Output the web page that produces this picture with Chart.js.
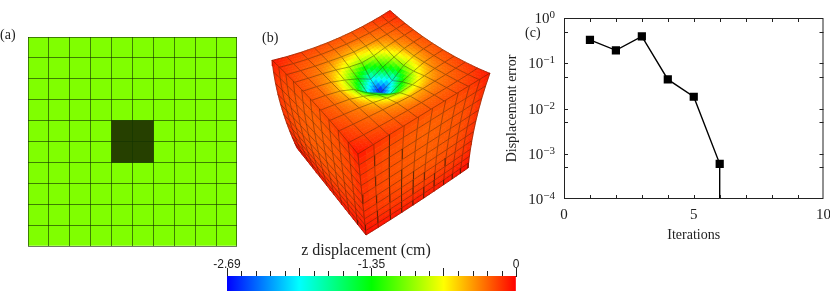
<!DOCTYPE html>
<html><head><meta charset="utf-8">
<style>
html,body{margin:0;padding:0;background:#fff;width:830px;height:291px;overflow:hidden}
.p{position:absolute}
canvas{display:block;filter:blur(.35px)}
</style>
<script src="https://cdn.jsdelivr.net/npm/chart.js@4"></script>
</head><body>
<div class="p" style="left:0;top:20px;width:250px;height:235px"><canvas id="a"></canvas></div>
<div class="p" style="left:255px;top:0;width:240px;height:240px"><canvas id="b"></canvas></div>
<div class="p" style="left:500px;top:0;width:330px;height:250px"><canvas id="c"></canvas></div>
<div class="p" style="left:200px;top:240px;width:330px;height:51px"><canvas id="d"></canvas></div>
<script>
// ---------- panel (c) data
const iterations = [1, 2, 3, 4, 5, 6, 6];
const displacementError = [0.327, 0.193, 0.393, 0.044, 0.0182, 0.0006, 0.000001];
const yDecades = [1, 0.1, 0.01, 0.001, 0.0001];
const yDecadeExponents = ['0', '\u22121', '\u22122', '\u22123', '\u22124'];
const yMinorTicks = [0.5, 0.05, 0.005, 0.0005];
const xTicksC = [0, 1, 2, 3, 4, 5, 6, 7, 8, 9, 10];
const xLabelledC = [0, 5, 10];
// ---------- panel (a) data
const plateColumns = ['1','2','3','4','5','6','7','8','9','10'];
const plateExtent = [[0,10],[0,10],[0,10],[0,10],[0,10],[0,10],[0,10],[0,10],[0,10],[0,10]];
const loadExtent = [null,null,null,null,[4,6],[4,6],null,null,null,null];
// ---------- colour bar data
const colourMin = -2.69, colourMax = 0;
const colourMajor = [-2.69, -2.0175, -1.345, -0.6725, 0];
const colourLabels = {'-2.69':'-2.69', '-1.345':'-1.35', '0':'0'};
const colourMinorPerInterval = 5;
const colourTitle = 'z displacement (cm)';
// ---------- panel (b) data: z displacement magnitude (cm) at mesh nodes
const topDisp = [
 [.05,.11,.15,.18,.20,.21,.20,.18,.15,.11,.05],
 [.11,.18,.22,.25,.27,.28,.27,.25,.22,.18,.11],
 [.15,.22,.28,.34,.42,.48,.42,.34,.28,.22,.15],
 [.18,.25,.34,.52,.80,.95,.80,.52,.34,.25,.18],
 [.20,.27,.42,.80,1.30,2.00,1.30,.80,.42,.27,.20],
 [.21,.28,.48,.95,2.00,2.69,2.00,.95,.48,.28,.21],
 [.20,.27,.42,.80,1.30,2.00,1.30,.80,.42,.27,.20],
 [.18,.25,.34,.52,.80,.95,.80,.52,.34,.25,.18],
 [.15,.22,.28,.34,.42,.48,.42,.34,.28,.22,.15],
 [.11,.18,.22,.25,.27,.28,.27,.25,.22,.18,.11],
 [.05,.11,.15,.18,.20,.21,.20,.18,.15,.11,.05]];
const sideDisp = [
 [.05,.12,.16,.19,.21,.22,.21,.19,.16,.12,.05],
 [.10,.16,.20,.22,.24,.25,.24,.22,.20,.16,.10],
 [.12,.18,.21,.23,.25,.26,.25,.23,.21,.18,.12],
 [.12,.18,.21,.23,.24,.25,.24,.23,.21,.18,.12],
 [.12,.18,.21,.23,.24,.25,.24,.23,.21,.18,.12],
 [.12,.17,.20,.22,.23,.24,.23,.22,.20,.17,.12],
 [.11,.16,.18,.20,.21,.21,.21,.20,.18,.16,.11],
 [.10,.14,.16,.17,.18,.18,.18,.17,.16,.14,.10],
 [.08,.11,.13,.14,.14,.15,.14,.14,.13,.11,.08],
 [.05,.08,.09,.10,.10,.10,.10,.10,.09,.08,.05],
 [.02,.04,.05,.05,.06,.06,.06,.05,.05,.04,.02]];
// view-space cube corners and edge sags for the projected block
const cornerBack=[390,10], cornerRight=[490,73], cornerLeft=[272,60], cornerFront=[358,154];
const cornerLeftLow=[297,148], cornerFrontLow=[366,235], cornerRightLow=[468,168];
const meshStops=[0,.075,.155,.24,.335,.435,.54,.65,.76,.88,1];
const rowStops=[0,.136,.267,.391,.506,.617,.712,.802,.877,.947,1];
const dimpleDepth=9;

const serif='"Liberation Serif"', sans='"Liberation Sans"';
const INK='#222';

function jet(t){
  t=Math.max(0,Math.min(1,t));
  const st=[[0,0,255],[0,255,255],[0,255,0],[255,255,0],[255,0,0]];
  const f=t*4,i=Math.min(3,Math.floor(f)),r=f-i;
  const c=st[i].map((v,k)=>Math.round(v+(st[i+1][k]-v)*r));
  return `rgb(${c[0]},${c[1]},${c[2]})`;
}
const dispColour=d=>jet((colourMax-d-colourMin)/(colourMax-colourMin));
const textPlugin=(items)=>({id:'txt',afterDraw(ch){
  const g=ch.ctx;g.save();g.fillStyle=INK;g.textBaseline='alphabetic';g.textAlign='left';
  g.font='14px '+serif;items.forEach(t=>g.fillText(t[0],t[1],t[2]));g.restore();}});
const base={responsive:false,animation:false,events:[],plugins:{legend:{display:false},tooltip:{enabled:false}}};
function size(id,w,h){const c=document.getElementById(id);c.width=w;c.height=h;c.style.width=w+'px';c.style.height=h+'px';return c;}

// ---------- (a)
const gridCol='rgba(20,50,0,.62)';
new Chart(size('a',250,235),{type:'bar',
 data:{labels:plateColumns,datasets:[
  {data:loadExtent,backgroundColor:'#264000',barPercentage:1,categoryPercentage:1,grouped:false,order:0},
  {data:plateExtent,backgroundColor:'#80ff00',barPercentage:1,categoryPercentage:1,grouped:false,order:1}]},
 options:{...base,layout:{padding:{left:28,right:13,top:17,bottom:9}},
  scales:{
   x:{grid:{color:gridCol,drawTicks:false,z:1},border:{display:false},ticks:{display:false},afterFit(s){s.height=0}},
   y:{min:0,max:10,grid:{color:gridCol,drawTicks:false,z:1},border:{display:false},ticks:{display:false,stepSize:1},afterFit(s){s.width=0}}}},
 plugins:[textPlugin([['(a)',0,19]])]});

// ---------- (b)
function mix(a,b,t){return [a[0]+(b[0]-a[0])*t,a[1]+(b[1]-a[1])*t];}
function edge(a,b,sag,t){const p=mix(a,b,t),k=4*t*(1-t);return [p[0]+sag[0]*k,p[1]+sag[1]*k];}
function coons(c00,c10,c01,c11,sv0,sv1,su0,su1,u,v){
  const a=edge(c00,c10,sv0,u),b=edge(c01,c11,sv1,u),c=edge(c00,c01,su0,v),d=edge(c10,c11,su1,v);
  const l=mix(mix(c00,c10,u),mix(c01,c11,u),v);
  return [0,1].map(i=>(1-v)*a[i]+v*b[i]+(1-u)*c[i]+u*d[i]-l[i]);
}
const rightStops=meshStops.map(s=>1-s).reverse();
const meshFaces=[
 {us:meshStops,vs:meshStops,f:(u,v)=>coons(cornerBack,cornerRight,cornerLeft,cornerFront,[-1,4],[1,-2],[1,4],[0,0],u,v),d:topDisp,depth:dimpleDepth,sub:4},
 {us:meshStops,vs:rowStops,f:(u,v)=>coons(cornerLeft,cornerFront,cornerLeftLow,cornerFrontLow,[1,-2],[0,0],[-4,0],[0,0],u,v),d:sideDisp,depth:0,sub:2},
 {us:rightStops,vs:rowStops,f:(u,v)=>coons(cornerFront,cornerRight,cornerFrontLow,cornerRightLow,[0,0],[0,1],[0,0],[-3,0],u,v),d:sideDisp,depth:0,sub:2}
];
const meshDatasets=[];
const meshLine='rgba(55,30,0,.45)';
function addFill(pts,col){meshDatasets.push({data:[...pts,pts[0]],showLine:true,fill:'shape',backgroundColor:col,borderColor:col,borderWidth:.7,pointRadius:0,tension:0,clip:false});}
function addLine(pts){meshDatasets.push({data:pts,showLine:true,fill:false,borderColor:meshLine,borderWidth:.9,pointRadius:0,tension:0,clip:false});}
meshFaces.forEach(F=>{
 const nodes=F.vs.map((v,j)=>F.us.map((u,i)=>{const p=F.f(u,v);const d=F.d[j][i];return {x:p[0],y:p[1]+F.depth*d};}));
 for(let j=0;j<10;j++)for(let i=0;i<10;i++){
  const n00=nodes[j][i],n10=nodes[j][i+1],n01=nodes[j+1][i],n11=nodes[j+1][i+1];
  const d00=F.d[j][i],d10=F.d[j][i+1],d01=F.d[j+1][i],d11=F.d[j+1][i+1];
  const P=(s,t)=>({x:(1-t)*((1-s)*n00.x+s*n10.x)+t*((1-s)*n01.x+s*n11.x),y:(1-t)*((1-s)*n00.y+s*n10.y)+t*((1-s)*n01.y+s*n11.y)});
  const D=(s,t)=>(1-t)*((1-s)*d00+s*d10)+t*((1-s)*d01+s*d11);
  const S=F.sub;
  for(let b=0;b<S;b++)for(let a=0;a<S;a++){
   const s0=a/S,s1=(a+1)/S,t0=b/S,t1=(b+1)/S;
   addFill([P(s0,t0),P(s1,t0),P(s1,t1),P(s0,t1)],dispColour(D((s0+s1)/2,(t0+t1)/2)));
  }
  addLine([n10,n00,n01]);
  if(i===9)addLine([n10,n11]);
  if(j===9)addLine([n01,n11]);
 }
});
new Chart(size('b',240,240),{type:'scatter',data:{datasets:meshDatasets.reverse()},
 options:{...base,layout:{padding:0},scales:{
  x:{type:'linear',display:false,min:255,max:495},
  y:{type:'linear',display:false,min:0,max:240,reverse:true}}},
 plugins:[textPlugin([['(b)',7,42]])]});

// ---------- (c)
const tickLen=4;
const frameC={id:'frameC',afterDatasetsDraw(ch){
 const g=ch.ctx,a=ch.chartArea,X=ch.scales.x,Y=ch.scales.y;
 g.save();g.strokeStyle=INK;g.lineWidth=1;
 g.strokeRect(a.left+.5,a.top+.5,a.right-a.left-1,a.bottom-a.top-1);
 g.beginPath();
 xTicksC.slice(1,-1).forEach(v=>{const x=Math.round(X.getPixelForValue(v))+.5;
  g.moveTo(x,a.top);g.lineTo(x,a.top+tickLen);g.moveTo(x,a.bottom);g.lineTo(x,a.bottom-tickLen);});
 [...yDecades.slice(1,-1),...yMinorTicks].forEach(v=>{const y=Math.round(Y.getPixelForValue(v))+.5;
  g.moveTo(a.left,y);g.lineTo(a.left+tickLen,y);g.moveTo(a.right,y);g.lineTo(a.right-tickLen,y);});
 g.stroke();
 g.fillStyle=INK;g.textBaseline='alphabetic';
 yDecades.forEach((v,i)=>{const y=Y.getPixelForValue(v),e=yDecadeExponents[i];
  g.font='11px '+serif;g.textAlign='right';g.fillText(e,a.left-9,y);
  const w=g.measureText(e).width;
  g.font='15px '+serif;g.fillText('10',a.left-9-w,y+5);});
 g.restore();}};
new Chart(size('c',330,250),{type:'scatter',
 data:{datasets:[{data:iterations.map((x,i)=>({x,y:displacementError[i]})),showLine:true,
  borderColor:'#000',borderWidth:1.4,tension:0,pointStyle:'rect',backgroundColor:'#000',
  pointRadius:iterations.map((x,i)=>i<6?5.8:0),pointBorderWidth:0}]},
 options:{...base,layout:{padding:{left:0,right:0,top:18,bottom:0}},scales:{
  x:{type:'linear',min:0,max:10,grid:{display:false},border:{display:false},
   afterBuildTicks(s){s.ticks=xLabelledC.map(value=>({value}));},
   ticks:{color:INK,font:{family:serif,size:15},padding:-1,maxRotation:0,autoSkip:false},
   title:{display:true,text:'Iterations',color:INK,font:{family:serif,size:14},padding:{top:0,bottom:6}},
   afterFit(s){s.height=51}},
  y:{type:'logarithmic',min:0.0001,max:1,grid:{display:false},border:{display:false},ticks:{display:false},
   title:{display:true,text:'Displacement error',color:INK,font:{family:serif,size:14},padding:{top:4,bottom:0}},
   afterFit(s){s.width=64}}}},
 plugins:[frameC,textPlugin([['(c)',25,37]])]});

// ---------- colour bar
const minorTicksBar={id:'minorBar',afterDraw(ch){
 const g=ch.ctx,X=ch.scales.x,a=ch.chartArea;g.save();g.strokeStyle=INK;g.lineWidth=1;g.beginPath();
 for(let k=0;k<colourMajor.length-1;k++)for(let m=1;m<colourMinorPerInterval;m++){
  const v=colourMajor[k]+(colourMajor[k+1]-colourMajor[k])*m/colourMinorPerInterval;
  const x=Math.round(X.getPixelForValue(v))+.5;g.moveTo(x,a.top);g.lineTo(x,a.top-5);}
 g.stroke();
 g.fillStyle=INK;g.font='16px '+serif;g.textAlign='center';g.textBaseline='middle';
 g.fillText(colourTitle,166,11);
 g.restore();}};
new Chart(size('d',330,51),{type:'bar',
 data:{labels:['z'],datasets:[{data:[[colourMin,colourMax]],barPercentage:1,categoryPercentage:1,
  backgroundColor(c){const a=c.chart.chartArea;if(!a)return '#000';
   const gr=c.chart.ctx.createLinearGradient(a.left,0,a.right,0);
   [0,.25,.5,.75,1].forEach(t=>gr.addColorStop(t,jet(t)));return gr;}}]},
 options:{...base,indexAxis:'y',layout:{padding:{left:27,right:14,top:0,bottom:0}},scales:{
  x:{position:'top',type:'linear',min:colourMin,max:colourMax,grid:{drawOnChartArea:false,color:INK,tickLength:8},border:{color:INK},
   afterBuildTicks(s){s.ticks=colourMajor.map(value=>({value}));},
   ticks:{color:INK,font:{family:sans,size:12},padding:-4,maxRotation:0,autoSkip:false,callback(v){return colourLabels[String(v)]||'';}},
   afterFit(s){s.height=36}},
  y:{display:false}}},
 plugins:[minorTicksBar]});
</script>
</body></html>
